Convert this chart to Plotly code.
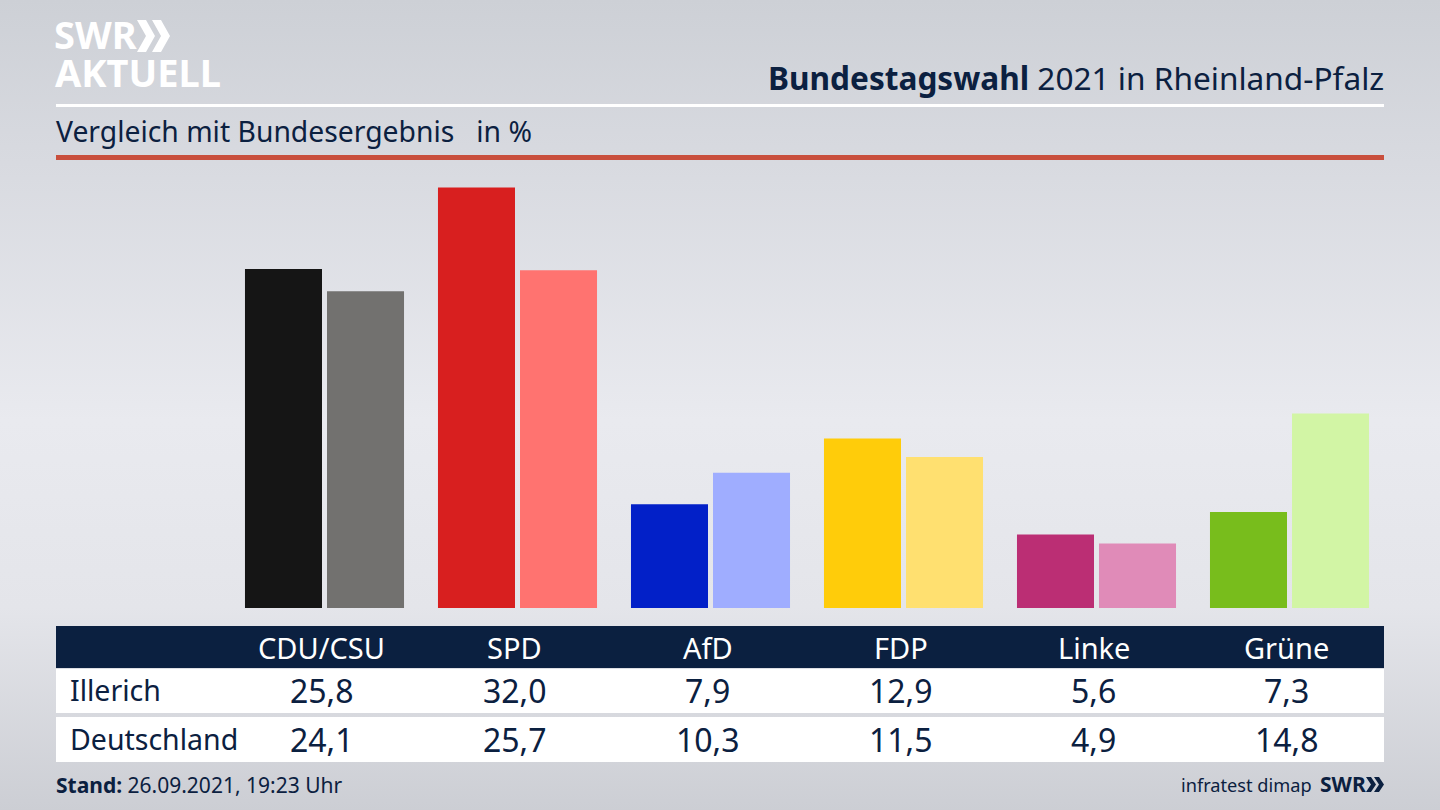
import plotly.graph_objects as go

parties = ["CDU/CSU", "SPD", "AfD", "FDP", "Linke", "Grüne"]
illerich = [25.8, 32.0, 7.9, 12.9, 5.6, 7.3]
deutschland = [24.1, 25.7, 10.3, 11.5, 4.9, 14.8]
illerich_labels = ["25,8", "32,0", "7,9", "12,9", "5,6", "7,3"]
deutschland_labels = ["24,1", "25,7", "10,3", "11,5", "4,9", "14,8"]
colors_illerich = ["#151515", "#d81f1f", "#0220c8", "#ffcc0a", "#bb2e74", "#78bd1c"]
colors_deutschland = ["#72716f", "#ff7370", "#9fadff", "#ffe070", "#e08bb8", "#d2f5a5"]

W, H = 1440, 810
NAVY = "#0b2040"
FONT = "Noto Sans"
def px(x): return x / W
def py(y): return 1 - y / H

fig = go.Figure()
fig.add_bar(x=parties, y=illerich, name="Illerich", marker=dict(color=colors_illerich, line_width=0))
fig.add_bar(x=parties, y=deutschland, name="Deutschland", marker=dict(color=colors_deutschland, line_width=0))

def rect(x0, y0, x1, y1, color):
    fig.add_shape(type="rect", xref="paper", yref="paper", x0=px(x0), x1=px(x1), y0=py(y0), y1=py(y1),
                  fillcolor=color, line_width=0, layer="below")

def chevron(x, y, w, h, t, color):
    pts = [(x, y), (x + t, y), (x + w, y + h / 2), (x + t, y + h), (x, y + h), (x + w - t, y + h / 2)]
    path = "M" + " L".join(f"{px(a):.5f},{py(b):.5f}" for a, b in pts) + " Z"
    fig.add_shape(type="path", xref="paper", yref="paper", path=path, fillcolor=color, line_width=0, layer="below")

rect(56, 104, 1384, 107, "#ffffff")
rect(56, 155, 1384, 160, "#c94f3d")
rect(56, 626, 1384, 668, NAVY)
rect(56, 669, 1384, 713, "#ffffff")
rect(56, 717, 1384, 762, "#ffffff")
chevron(137, 20, 18, 32, 9, "#ffffff")
chevron(152, 20, 18, 32, 9, "#ffffff")
chevron(1366, 777, 10, 15, 5, NAVY)
chevron(1374, 777, 10, 15, 5, NAVY)

def text(x, y, s, size, color=NAVY, anchor="left"):
    fig.add_annotation(xref="paper", yref="paper", x=px(x), y=py(y), text=s, showarrow=False,
                       xanchor=anchor, yanchor="middle", align=anchor,
                       font=dict(family=FONT, size=size, color=color), borderpad=0, borderwidth=0)

text(1384, 77, "<b>Bundestagswahl</b> 2021 in Rheinland-Pfalz", 31.6, anchor="right")
text(56, 131.5, "Vergleich mit Bundesergebnis&nbsp;&nbsp;&nbsp;in %", 28.3)
text(54, 34, "<b>SWR</b>", 38, "#ffffff")
text(55, 72, "<b>AKTUELL</b>", 38, "#ffffff")
text(70, 690, "Illerich", 28.5)
text(70, 739, "Deutschland", 28.5)
text(56, 785, "<b>Stand:</b> 26.09.2021, 19:23 Uhr", 21)
text(1312, 785, "infratest dimap", 18.2, anchor="right")
text(1366, 784, "<b>SWR</b>", 21, anchor="right")

for p, a, b in zip(parties, illerich_labels, deutschland_labels):
    for s, y, c, size in [(p, 647, "#ffffff", 29), (a, 690, NAVY, 32), (b, 739, NAVY, 32)]:
        fig.add_annotation(x=p, xref="x", yref="paper", y=py(y), text=s, showarrow=False, xshift=-3,
                           xanchor="center", yanchor="middle",
                           font=dict(family=FONT, size=size, color=c))

fig.update_layout(
    width=W, height=H, margin=dict(l=0, r=0, t=0, b=0, pad=0),
    paper_bgcolor="rgba(0,0,0,0)", plot_bgcolor="rgba(0,0,0,0)",
    barmode="group", bargap=0.15, bargroupgap=0.061, showlegend=False,
    xaxis=dict(type="category", range=[-324.5 / 193, (W - 324.5) / 193], visible=False, fixedrange=True),
    yaxis=dict(range=[-(810 - 608) / 13.14, 608 / 13.14], visible=False, fixedrange=True),
)
fig.write_html("out.html", config=dict(displayModeBar=False), post_script=(
    "document.documentElement.style.margin='0';document.body.style.margin='0';"
    "document.body.style.background='linear-gradient(180deg,#cdd0d6 0%,#d8dae0 20%,#e9eaef 52%,#e4e5ea 75%,#ccced4 100%)';"
    "document.body.style.minHeight='810px';document.body.style.overflow='hidden';"))
